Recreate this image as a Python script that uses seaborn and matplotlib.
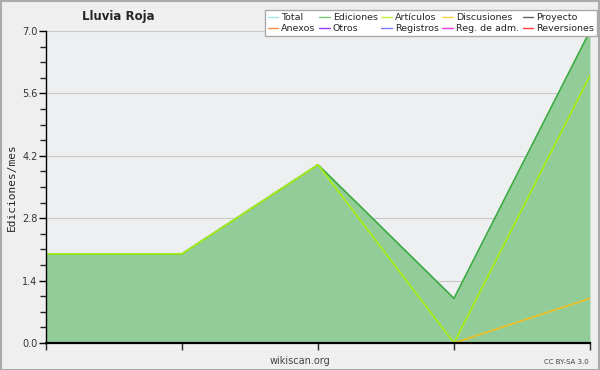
import matplotlib
matplotlib.use("Agg")
import matplotlib.pyplot as plt
import numpy as np
import seaborn as sns
from matplotlib.lines import Line2D
from matplotlib.ticker import MultipleLocator

# ---------- data ----------
months = [0, 1, 2, 3, 4]
total = [2, 2, 4, 1, 7]
ediciones = [2, 2, 4, 1, 7]
articulos = [2, 2, 4, 0, 6]
discusiones = [0, 0, 0, 0, 1]

legend_labels = ["Total", "Ediciones", "Artículos", "Discusiones", "Proyecto",
                 "Anexos", "Otros", "Registros", "Reg. de adm.", "Reversiones"]
legend_colors = ["#9fe6e6", "#78cc78", "#c4f03c", "#ffd24a", "#606060",
                 "#ff8c4a", "#9a3cf0", "#7c7cff", "#e23ce8", "#ff3c3c"]

sns.set_theme(style="white", rc={
    "figure.facecolor": "#efefef",
    "axes.facecolor": "#eeeff1",
    "axes.edgecolor": "black",
    "axes.linewidth": 1.0,
})
plt.rcParams["font.family"] = ["DejaVu Sans"]

fig = plt.figure(figsize=(6, 3.7), dpi=100)
ax = fig.add_axes([0.0767, 0.073, 0.9066, 0.843])

ax.fill_between(months, ediciones, 0, color="#92cc98", lw=0, zorder=1)
sns.lineplot(x=months, y=total, ax=ax, color="#9fe6e6", lw=1.0, zorder=2)
sns.lineplot(x=months, y=ediciones, ax=ax, color="#3eaa3e", lw=1.2, zorder=3)
sns.lineplot(x=months, y=articulos, ax=ax, color="#a8ee10", lw=1.2, zorder=4)
sns.lineplot(x=months, y=discusiones, ax=ax, color="#f0c020", lw=1.2, zorder=5)

ax.set_xlim(0, 4)
ax.set_ylim(0, 7)
ax.set_xticks(months)
ax.set_xticklabels([])
ax.set_yticks([0, 1.4, 2.8, 4.2, 5.6, 7.0])
ax.set_yticklabels(["0.0", "1.4", "2.8", "4.2", "5.6", "7.0"])
ax.yaxis.set_minor_locator(MultipleLocator(0.35))
ax.tick_params(axis="y", which="major", direction="out", length=5, width=1,
               labelsize=7, colors="black", labelcolor="#333333", left=True, pad=1)
ax.tick_params(axis="y", which="minor", direction="out", length=4, width=1, left=True)
ax.tick_params(axis="x", which="major", direction="out", length=5, width=1, bottom=True)
ax.grid(axis="y", which="major", color="#c8c8c8", lw=0.8, zorder=0)
ax.set_axisbelow(True)
for s in ["top", "right"]:
    ax.spines[s].set_visible(False)
ax.spines["left"].set_zorder(6)
ax.spines["bottom"].set_zorder(6)
ax.spines["bottom"].set_linewidth(1.6)

ax.set_ylabel("Ediciones/mes", fontsize=8, family="DejaVu Sans Mono", labelpad=4)

fig.text(0.197, 0.955, "Lluvia Roja", fontsize=8.5, fontweight="bold", ha="center", va="center")
fig.text(0.5, 0.025, "wikiscan.org", fontsize=7, color="#444444", ha="center", va="center")
fig.text(0.982, 0.022, "CC BY-SA 3.0", fontsize=5, color="#444444", ha="right", va="center")

# legend is filled column-first, so interleave to get row order
ncol = 5
order = [r * ncol + c for c in range(ncol) for r in range(2)]
handles = [Line2D([], [], color=legend_colors[i], lw=1) for i in order]
labels = [legend_labels[i] for i in order]
fig.legend(handles, labels, ncol=ncol, loc="upper right",
           bbox_to_anchor=(0.995, 0.973), fontsize=6.8, frameon=True,
           fancybox=False, edgecolor="#aaaaaa", facecolor="white", framealpha=1,
           handlelength=1.1, handletextpad=0.3, columnspacing=0.4,
           labelspacing=0.2, borderpad=0.35, borderaxespad=0)

# gray figure border
fig.patches.append(plt.Rectangle((0.001, 0.001), 0.997, 0.996, transform=fig.transFigure,
                                 fill=False, edgecolor="#aaaaaa", lw=1.5))

fig.savefig("out.png", dpi=100)
